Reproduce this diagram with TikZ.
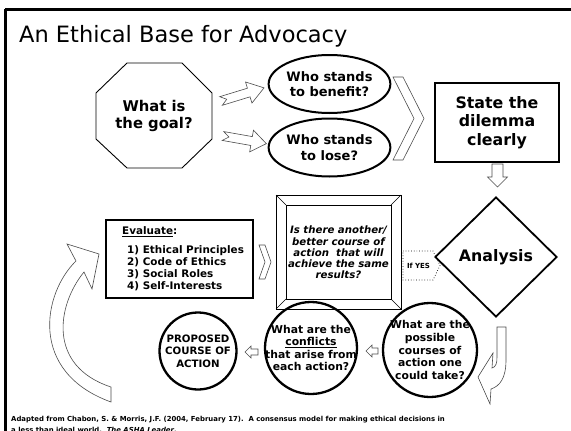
\documentclass[tikz,border=0pt]{standalone}
\usepackage{fontspec}
\setmainfont{DejaVu Sans}
\usetikzlibrary{shapes.geometric}
\begin{document}
\begin{tikzpicture}[x=1pt,y=-1pt,
  blockarrow/.style={draw=black!70, line width=0.6pt, fill=white},
  qfont/.style={font=\bfseries\fontsize{10.8}{12.6}\selectfont, align=center, inner sep=0pt},
  ringnode/.style={draw=black, circle, line width=2.3pt, inner sep=0pt},
]
\useasboundingbox (0,0) rectangle (571,431);
\clip (0,0) rectangle (571,431);

% page frame
\draw[line width=3pt] (5,9) -- (571,9);
\draw[line width=3pt] (5,9) -- (5,431);

% title
\node[anchor=base west, inner sep=0pt, font=\fontsize{22.5}{26}\selectfont] (title) at (19,42) {An Ethical Base for Advocacy};

% octagon
\draw[line width=0.9pt] (127,63) -- (182,63) -- (212,93) -- (212,139) -- (182,168) -- (127,168) -- (96,139) -- (96,93) -- cycle;
\node[font=\bfseries\fontsize{14.8}{16.5}\selectfont, align=center, inner sep=0pt] (goal) at (154,116) {What is\\the goal?};

% tilted notched arrows
\begin{scope}[shift={(221,101)}, rotate=17]
  \draw[blockarrow] (0,-4.5) -- (29,-4.5) -- (29,-11) -- (45,0) -- (29,11) -- (29,4.5) -- (0,4.5) -- (6,0) -- cycle;
\end{scope}
\begin{scope}[shift={(223,136)}, rotate=-10]
  \draw[blockarrow] (0,-4.5) -- (29,-4.5) -- (29,-11) -- (44,0) -- (29,11) -- (29,4.5) -- (0,4.5) -- (6,0) -- cycle;
\end{scope}

% ellipses
\node[draw, ellipse, line width=2pt, minimum width=97pt, minimum height=58pt, inner sep=0pt,
      font=\bfseries\fontsize{13}{15.5}\selectfont, align=center] (benefit) at (329.5,84) {Who stands\\to benefit?};
\node[draw, ellipse, line width=2pt, minimum width=97pt, minimum height=58pt, inner sep=0pt,
      font=\bfseries\fontsize{13}{15.5}\selectfont, align=center] (lose) at (329.5,147.5) {Who stands\\to lose?};

% large chevron
\draw[blockarrow] (393,77) -- (403,77) -- (424,118.5) -- (403,160) -- (393,160) -- (414,118.5) -- cycle;

% dilemma box
\node[draw, line width=1.5pt, minimum width=124pt, minimum height=79pt, inner sep=0pt,
      font=\bfseries\fontsize{15.8}{18.5}\selectfont, align=center] (state) at (497,122.5) {State the\\dilemma\\clearly};

% down arrow
\draw[blockarrow] (492,164) -- (503,164) -- (503,177) -- (507.5,177) -- (497.5,187) -- (487.5,177) -- (492,177) -- cycle;

% analysis diamond
\node[draw, diamond, line width=1.8pt, minimum width=122pt, minimum height=120pt, inner sep=0pt,
      font=\bfseries\fontsize{15.8}{18}\selectfont] (analysis) at (496,257) {Analysis};

% dotted "If YES" pointer
\draw[black, line width=0.7pt, dotted] (403,251) -- (433,251) -- (440,265.5) -- (433,280) -- (403,280) -- cycle;
\node[font=\bfseries\fontsize{7}{8}\selectfont, inner sep=0pt] (ifyes) at (418.5,265.5) {If YES};

% bevelled question frame
\draw[line width=0.8pt] (276,195) rectangle (401,309);
\draw[line width=0.8pt] (286,205) rectangle (391,299);
\draw[line width=0.6pt] (276,195) -- (286,205) (401,195) -- (391,205) (401,309) -- (391,299) (276,309) -- (286,299);
\node[font=\bfseries\itshape\fontsize{10.2}{11.3}\selectfont, align=center, inner sep=0pt] (another) at (338.5,252.5)
  {Is there another/\\better course of\\action\ \ that will\\achieve the same\\results?};

% small chevron
\draw[blockarrow] (259,245) -- (265,245) -- (271,262) -- (265,279) -- (259,279) -- (265,262) -- cycle;

% evaluate box
\node[draw, line width=2.5pt, minimum width=147pt, minimum height=78pt, inner sep=0pt] (evalbox) at (179.5,259) {};
\node[anchor=west, inner sep=0pt, font=\bfseries\fontsize{10.4}{12}\selectfont] (evalhead) at (122,232) {\underline{Evaluate}:};
\node[anchor=north west, inner sep=0pt, align=left, font=\bfseries\fontsize{10.4}{12.1}\selectfont] (evallist) at (127,245)
  {1) Ethical Principles\\2) Code of Ethics\\3) Social Roles\\4) Self-Interests};

% big curved return arrow
\draw[blockarrow] (111,402) .. controls (28,372) and (43,293) .. (76,261) -- (67,244) -- (99,254) -- (92,289) -- (84,272)
  .. controls (57,305) and (47,366) .. (111,387) -- cycle;

% J-shaped arrow
\draw[blockarrow] (497,327) -- (506,327) -- (506,360) .. controls (506,378) and (500,386) .. (491,389) -- (490,404) -- (478,377) -- (493,353)
  -- (492,368) .. controls (496,367) and (497,363) .. (497,357) -- cycle;

% bottom row of rings
\node[ringnode, minimum size=94pt] (options) at (430,350) {};
\node[qfont] (optionsT) at (options.center) {What are the\\possible\\courses of\\action one\\could take?};
\node[ringnode, minimum size=92pt] (conflicts) at (311,348) {};
\node[qfont] (conflictsT) at (conflicts.center) {What are the\\\underline{conflicts}\\that arise from\\each action?};
\node[ringnode, minimum size=77pt] (proposed) at (198,351) {};
\node[qfont, font=\bfseries\fontsize{10.2}{12.6}\selectfont] (proposedT) at (proposed.center) {PROPOSED\\COURSE OF\\ACTION};

% small left arrows between rings
\draw[blockarrow] (366,351) -- (372,345) -- (372,348) -- (378,348) -- (378,354) -- (372,354) -- (372,357) -- cycle;
\draw[blockarrow] (245,352) -- (251,346) -- (251,349) -- (258,349) -- (258,355) -- (251,355) -- (251,358) -- cycle;

% source note (second line runs off the page edge)
\node[anchor=base west, inner sep=0pt, font=\bfseries\fontsize{6.9}{8}\selectfont] (source) at (11,421)
  {Adapted from Chabon, S. \& Morris, J.F. (2004, February 17).\ \ A consensus model for making ethical decisions in};
\node[anchor=base west, inner sep=0pt, font=\bfseries\fontsize{6.9}{8}\selectfont] (source2) at (11,432.5)
  {a less than ideal world.\ \ \textit{The ASHA Leader}.};
\end{tikzpicture}
\end{document}
